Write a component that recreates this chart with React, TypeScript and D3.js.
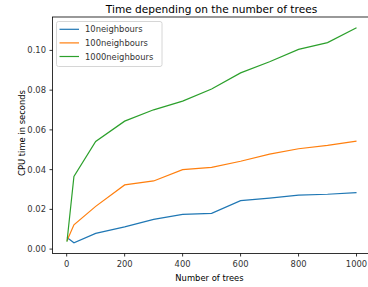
import React from "react";
import * as d3 from "d3";

const trees = [1, 25, 100, 200, 300, 400, 500, 600, 700, 800, 900, 1000];
const n10 = [0.0058, 0.0032, 0.0079, 0.0112, 0.015, 0.0175, 0.018, 0.0244, 0.0257, 0.0272, 0.0276, 0.0284];
const n100 = [0.0042, 0.0122, 0.0215, 0.0323, 0.0343, 0.04, 0.0411, 0.0442, 0.0478, 0.0505, 0.0522, 0.0543];
const n1000 = [0.0037, 0.0366, 0.0542, 0.0644, 0.0701, 0.0745, 0.0806, 0.0887, 0.0943, 0.1005, 0.1039, 0.1114];
const seriesNames = ["10neighbours", "100neighbours", "1000neighbours"];
const colors = ["#1f77b4", "#ff7f0e", "#2ca02c"];
const xTicks = [0, 200, 400, 600, 800, 1000];
const yTicks = [0, 0.02, 0.04, 0.06, 0.08, 0.1];

export default function App() {
  const width = 368;
  const height = 287;
  const left = 52.5;
  const top = 17;
  const bottom = 253.5;
  const right = 371;
  const font = "DejaVu Sans, sans-serif";
  const fs = 8.4;

  const x = d3.scaleLinear().domain([-48.95, 1049.95]).range([left, right]);
  const y = d3.scaleLinear().domain([-0.00221, 0.11681]).range([bottom, top]);

  const all = [n10, n100, n1000];
  const line = d3
    .line<number>()
    .x((_, i) => x(trees[i]))
    .y((d) => y(d));

  return (
    <svg
      width={width}
      height={height}
      style={{ position: "absolute", left: 0, top: 0, background: "#fff" }}
    >
      <text x={211.5} y={12.5} textAnchor="middle" fontFamily={font} fontSize={10.6} fill="#000">
        Time depending on the number of trees
      </text>
      {all.map((s, k) => (
        <path key={k} d={line(s) || ""} fill="none" stroke={colors[k]} strokeWidth={1.2} />
      ))}
      <rect x={left} y={top} width={right - left} height={bottom - top} fill="none" stroke="#000" strokeWidth={0.8} />
      {xTicks.map((t) => (
        <g key={t}>
          <line x1={x(t)} x2={x(t)} y1={bottom} y2={bottom + 3} stroke="#000" strokeWidth={0.8} />
          <text x={x(t)} y={bottom + 13.5} textAnchor="middle" fontFamily={font} fontSize={fs} fill="#333">
            {t}
          </text>
        </g>
      ))}
      {yTicks.map((t) => (
        <g key={t}>
          <line x1={left - 3} x2={left} y1={y(t)} y2={y(t)} stroke="#000" strokeWidth={0.8} />
          <text x={left - 6.5} y={y(t) + 3} textAnchor="end" fontFamily={font} fontSize={fs} fill="#333">
            {t.toFixed(2)}
          </text>
        </g>
      ))}
      <text x={209.5} y={281} textAnchor="middle" fontFamily={font} fontSize={fs} fill="#000">
        Number of trees
      </text>
      <text
        transform={`translate(${24.5},${133}) rotate(-90)`}
        textAnchor="middle"
        fontFamily={font}
        fontSize={fs}
        fill="#000"
      >
        CPU time in seconds
      </text>
      <rect x={56.5} y={21.5} width={105.5} height={45} rx={2} fill="#fff" fillOpacity={0.8} stroke="#ccc" strokeWidth={0.8} />
      {seriesNames.map((name, k) => (
        <g key={name}>
          <line x1={59.5} x2={79} y1={29.3 + k * 13.6} y2={29.3 + k * 13.6} stroke={colors[k]} strokeWidth={1.2} />
          <text x={85} y={29.3 + k * 13.6 + 3} fontFamily={font} fontSize={fs} fill="#333">
            {name}
          </text>
        </g>
      ))}
    </svg>
  );
}
